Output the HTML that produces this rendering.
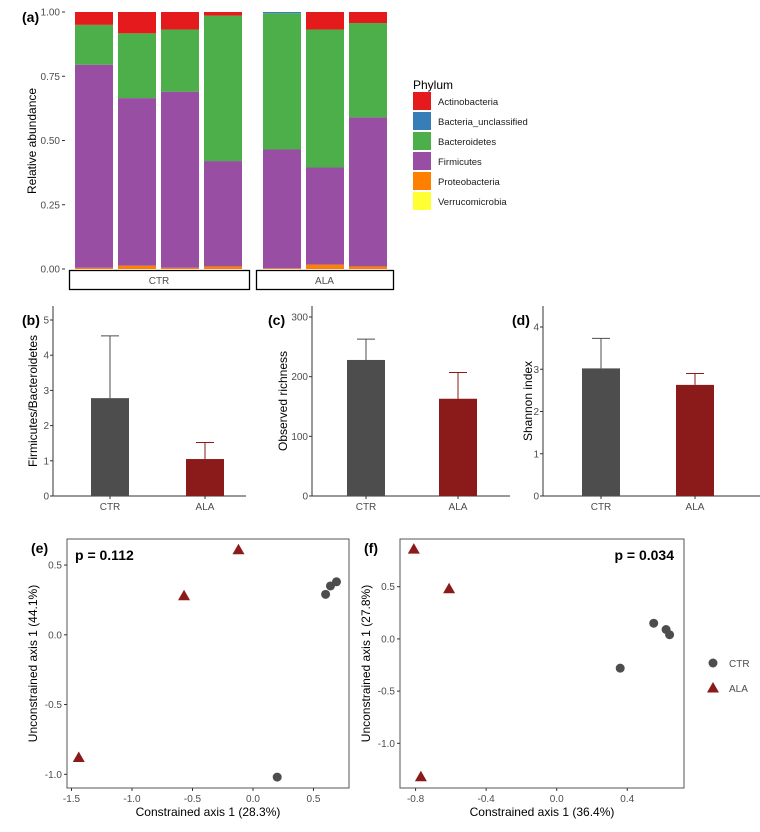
<!DOCTYPE html>
<html><head><meta charset="utf-8"><style>
body{margin:0;background:#fff;}
svg{display:block;font-family:"Liberation Sans",sans-serif;}
.tk{font-size:10px;fill:#4d4d4d;}
.tt{font-size:12px;fill:#000;}
.pl{font-size:14px;font-weight:bold;fill:#000;}
</style></head><body>
<svg id="c" width="760" height="832" xmlns="http://www.w3.org/2000/svg"></svg>
<script>
// ---- Panel (a) data ----
const samples = ["CTR1","CTR2","CTR3","CTR4","ALA1","ALA2","ALA3"];
const phyla = ["Proteobacteria","Firmicutes","Bacteroidetes","Bacteria_unclassified","Actinobacteria","Verrucomicrobia"];
const proteo = [0.005,0.013,0.005,0.010,0.003,0.017,0.010];
const firmic = [0.790,0.652,0.685,0.410,0.462,0.378,0.580];
const bacter = [0.155,0.252,0.242,0.566,0.530,0.537,0.367];
const unclas = [0.000,0.000,0.000,0.000,0.005,0.000,0.000];
const actino = [0.050,0.083,0.068,0.014,0.000,0.068,0.043];
const verruc = [0,0,0,0,0,0,0];
const aTicks = [0,0.25,0.5,0.75,1];
const aTickLabels = ["0.00","0.25","0.50","0.75","1.00"];
const legendLabels = ["Actinobacteria","Bacteria_unclassified","Bacteroidetes","Firmicutes","Proteobacteria","Verrucomicrobia"];
// ---- Panels (b)-(d) data ----
const groups = ["CTR","ALA"];
const fbMean = [2.78,1.05], fbErr = [4.55,1.52];
const richMean = [228,163], richErr = [263,207];
const shanMean = [3.02,2.63], shanErr = [3.73,2.90];
// ---- Panels (e),(f) data ----
const eCtrX = [0.60,0.64,0.69,0.20], eCtrY = [0.29,0.35,0.38,-1.02];
const eAlaX = [-1.44,-0.57,-0.12], eAlaY = [-0.88,0.28,0.61];
const fCtrX = [0.36,0.55,0.62,0.64], fCtrY = [-0.28,0.15,0.09,0.04];
const fAlaX = [-0.81,-0.61,-0.77], fAlaY = [0.86,0.48,-1.32];

const svg = document.getElementById('c');
const NS = "http://www.w3.org/2000/svg";
function mk(tag, attrs, parent){ const e=document.createElementNS(NS,tag); for(const k in attrs) e.setAttribute(k,attrs[k]); (parent||svg).appendChild(e); return e; }
function txt(s, attrs, parent){ const e=mk('text',attrs,parent); e.textContent=s; return e; }

const colPhy = {Proteobacteria:"#ff7f00",Firmicutes:"#984ea3",Bacteroidetes:"#4daf4a",Bacteria_unclassified:"#377eb8",Actinobacteria:"#e41a1c",Verrucomicrobia:"#ffff33"};

// ===== Panel a =====
const ay = v => 269 - v*257;
const barX = [75,118,161,204,263,306,349], barW = 38;
const gA = mk('g',{});  
txt("(a)",{x:22,y:22,class:"pl"},gA);
aTicks.forEach((t,i)=>{ txt(aTickLabels[i],{x:60,y:ay(t)+3.5,class:"tk","text-anchor":"end"},gA); mk('line',{x1:62,x2:65,y1:ay(t),y2:ay(t),stroke:"#333"},gA); });
txt("Relative abundance",{x:0,y:0,class:"tt",transform:"translate(36,141) rotate(-90)","text-anchor":"middle"},gA);
const series=[proteo,firmic,bacter,unclas,actino,verruc];
samples.forEach((s,i)=>{
  let cum=0;
  series.forEach((arr,j)=>{
    const v=arr[i]; if(v<=0) return;
    const r=mk('rect',{x:barX[i],width:barW,y:ay(cum+v),height:v*257,fill:colPhy[phyla[j]]},gA);
    
    
    cum+=v;
  });
});
[[69,249,"CTR"],[256,393,"ALA"]].forEach(d=>{
  mk('rect',{x:d[0]+0.5,y:270.5,width:d[1]-d[0],height:19,fill:"#fff",stroke:"#000","stroke-width":1.3},gA);
  txt(d[2],{x:(d[0]+d[1])/2,y:284,class:"tk","text-anchor":"middle",fill:"#1a1a1a"},gA);
});
const leg=mk('g',{});  
txt("Phylum",{x:413,y:89,class:"tt"},leg);
legendLabels.forEach((l,i)=>{
  const yy=92+i*20;
  mk('rect',{x:413,y:yy,width:18,height:18,fill:colPhy[l]},leg);
  txt(l,{x:438,y:yy+13,style:"font-size:9.5px",fill:"#1a1a1a"},leg);
});

// ===== Panels b-d =====
function barPanel(name,label,lx,titleX,ax,axEnd,maxV,ticks,means,errs,title,cx){
  const g=mk('g',{});  
  const y0=496, unit=(496-ticks.top)/maxV;
  const y=v=>y0-v*unit;
  txt(label,{x:lx,y:325,class:"pl"},g);
  mk('line',{x1:ax,x2:ax,y1:306,y2:y0,stroke:"#333"},g);
  mk('line',{x1:ax,x2:axEnd,y1:y0,y2:y0,stroke:"#333"},g);
  ticks.vals.forEach(t=>{ txt(String(t),{x:ax-4,y:y(t)+3.5,class:"tk","text-anchor":"end"},g); mk('line',{x1:ax-3,x2:ax,y1:y(t),y2:y(t),stroke:"#333"},g); });
  txt(title,{x:0,y:0,class:"tt",transform:`translate(${titleX},401) rotate(-90)`,"text-anchor":"middle"},g);
  const cols=["#4d4d4d","#8b1a1a"];
  groups.forEach((gr,i)=>{
    const c=cx[i];
    mk('line',{x1:c,x2:c,y1:y(errs[i]),y2:y(means[i]),stroke:cols[i]},g);
    mk('line',{x1:c-9,x2:c+9,y1:y(errs[i]),y2:y(errs[i]),stroke:cols[i]},g);
    const r=mk('rect',{x:c-19,y:y(means[i]),width:38,height:means[i]*unit,fill:cols[i]},g);
    
    
    mk('line',{x1:c,x2:c,y1:y0,y2:y0+3,stroke:"#333"},g);
    txt(gr,{x:c,y:y0+14,class:"tk","text-anchor":"middle"},g);
  });
}
barPanel('panel-b',"(b)",22,37,53,246,5,{top:320,vals:[0,1,2,3,4,5]},fbMean,fbErr,"Firmicutes/Bacteroidetes",[110,205]);
barPanel('panel-c',"(c)",268,287,312,510,300,{top:317,vals:[0,100,200,300]},richMean,richErr,"Observed richness",[366,458]);
barPanel('panel-d',"(d)",512,532,543,760,4,{top:327,vals:[0,1,2,3,4]},shanMean,shanErr,"Shannon index",[601,695]);

// ===== Panels e,f =====
function scatter(name,label,box,xs,ys,xt,xtl,yt,ytl,ctrX,ctrY,alaX,alaY,pTxt,pX,pAnchor,xTitle,yTitle){
  const g=mk('g',{});  
  mk('rect',{x:box[0],y:box[1],width:box[2]-box[0],height:box[3]-box[1],fill:"none",stroke:"#555"},g);
  txt(label,{x:box[0]-36,y:553,class:"pl"},g);
  xt.forEach((t,i)=>{ mk('line',{x1:xs(t),x2:xs(t),y1:box[3],y2:box[3]+3,stroke:"#333"},g); txt(xtl[i],{x:xs(t),y:box[3]+14,class:"tk","text-anchor":"middle"},g); });
  yt.forEach((t,i)=>{ mk('line',{x1:box[0]-3,x2:box[0],y1:ys(t),y2:ys(t),stroke:"#333"},g); txt(ytl[i],{x:box[0]-5,y:ys(t)+3.5,class:"tk","text-anchor":"end"},g); });
  txt(xTitle,{x:(box[0]+box[2])/2,y:816,class:"tt","text-anchor":"middle"},g);
  txt(yTitle,{x:0,y:0,class:"tt",transform:`translate(${box[0]-30},${(box[1]+box[3])/2}) rotate(-90)`,"text-anchor":"middle"},g);
  txt(pTxt,{x:pX,y:560,style:"font-size:14px;font-weight:bold","text-anchor":pAnchor},g);
  ctrX.forEach((v,i)=>{ const c=mk('circle',{cx:xs(v),cy:ys(ctrY[i]),r:4.5,fill:"#4d4d4d"},g);   });
  alaX.forEach((v,i)=>{ const x=xs(v),y=ys(alaY[i]); const p=mk('polygon',{points:`${x},${y-6} ${x-6},${y+4.5} ${x+6},${y+4.5}`,fill:"#8b1a1a"},g);   });
}
scatter('panel-e',"(e)",[67,539,349,788],v=>253+v*121,v=>634.8-v*139.5,[-1.5,-1,-0.5,0,0.5],["-1.5","-1.0","-0.5","0.0","0.5"],[0.5,0,-0.5,-1],["0.5","0.0","-0.5","-1.0"],eCtrX,eCtrY,eAlaX,eAlaY,"p = 0.112",75,"start","Constrained axis 1 (28.3%)","Unconstrained axis 1 (44.1%)");
scatter('panel-f',"(f)",[400,539,684,788],v=>556.7+v*176.4,v=>638.9-v*104.4,[-0.8,-0.4,0,0.4],["-0.8","-0.4","0.0","0.4"],[0.5,0,-0.5,-1],["0.5","0.0","-0.5","-1.0"],fCtrX,fCtrY,fAlaX,fAlaY,"p = 0.034",674,"end","Constrained axis 1 (36.4%)","Unconstrained axis 1 (27.8%)");

const lg=mk('g',{});  
mk('circle',{cx:713,cy:663,r:4.5,fill:"#4d4d4d"},lg);
txt("CTR",{x:729,y:667,class:"tk",fill:"#1a1a1a"},lg);
mk('polygon',{points:"713,682 707,692.5 719,692.5",fill:"#8b1a1a"},lg);
txt("ALA",{x:729,y:692,class:"tk",fill:"#1a1a1a"},lg);
</script>
</body></html>
